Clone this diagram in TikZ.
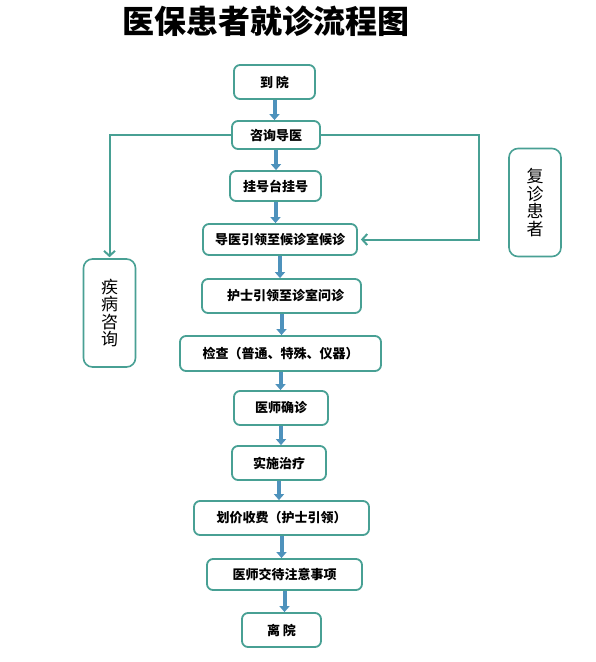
\documentclass[tikz,border=0pt]{standalone}
\usepackage{fontspec}
\newfontfamily\cjk{Noto Sans CJK SC}
\usepackage{tikz}
\usetikzlibrary{arrows.meta}

\definecolor{boxline}{RGB}{72,160,148}
\definecolor{flowblue}{RGB}{78,146,188}

\begin{document}
\begin{tikzpicture}[x=1pt,y=-1pt,
  main node/.style={rectangle,rounded corners=6pt,draw=boxline,line width=1.8pt,fill=white,inner sep=0pt,font=\cjk\bfseries\fontsize{13}{15}\selectfont},
  side node/.style={rectangle,rounded corners=9pt,draw=boxline,line width=1.6pt,fill=white,inner sep=0pt,align=center,minimum width=52pt,minimum height=108pt,font=\cjk\fontsize{17}{17.5}\selectfont},
  flow/.style={draw=flowblue,line width=4pt,-{Triangle[width=10pt,length=6pt]}},
  link/.style={draw=boxline,line width=2pt,-{Straight Barb[width=11pt,length=5pt]}}]
  \useasboundingbox (0,0) rectangle (596,662);
  \node (title) at (266,21) {\cjk\bfseries\fontsize{32}{35}\selectfont 医保患者就诊流程图};

  \node[main node,minimum width=81pt,minimum height=34pt] (arrive) at (274.5,82) {到 院};
  \node[main node,minimum width=88pt,minimum height=28pt] (consult) at (276,135) {咨询导医};
  \node[main node,minimum width=91pt,minimum height=30pt] (register) at (275.5,186) {挂号台挂号};
  \node[main node,minimum width=154pt,minimum height=31pt] (wait) at (280,239.5) {导医引领至候诊室候诊};
  \node[main node,minimum width=159pt,minimum height=34pt] (nurse) at (281.5,296) {\hspace{8pt}护士引领至诊室问诊};
  \node[main node,minimum width=201pt,minimum height=35pt] (check) at (280.5,353.5) {检查（普通、特殊、仪器）};
  \node[main node,minimum width=94pt,minimum height=34pt] (diagnose) at (281,408) {医师确诊};
  \node[main node,minimum width=94pt,minimum height=34pt] (treat) at (279,463) {实施治疗};
  \node[main node,minimum width=175pt,minimum height=34pt] (pay) at (281.5,518) {划价收费（护士引领）};
  \node[main node,minimum width=155pt,minimum height=31pt] (advice) at (284.5,574.5) {医师交待注意事项};
  \node[main node,minimum width=79pt,minimum height=34pt] (leave) at (281.5,630) {离 院};

  \node[side node] (disease) at (109.5,313) {疾\\病\\咨\\询};
  \node[side node] (revisit) at (535,202.5) {复\\诊\\患\\者};

  \path[every edge/.style={flow}]
    (arrive.south) edge (arrive.south |- consult.north)
    (consult.south) edge (consult.south |- register.north)
    (register.south) edge (register.south |- wait.north)
    (wait.south) edge (wait.south |- nurse.north)
    (nurse.south) edge (nurse.south |- check.north)
    (check.south) edge (check.south |- diagnose.north)
    (diagnose.south) edge (diagnose.south |- treat.north)
    (treat.south) edge (treat.south |- pay.north)
    (pay.south) edge (pay.south |- advice.north)
    (advice.south) edge (advice.south |- leave.north);

  \coordinate (rturn) at (479,135);
  \draw[link,shorten >=1pt] (consult.west) -| (disease.north);
  \draw[link,shorten >=3pt] (consult.east) -- (rturn) |- (wait.east);
\end{tikzpicture}
\end{document}
